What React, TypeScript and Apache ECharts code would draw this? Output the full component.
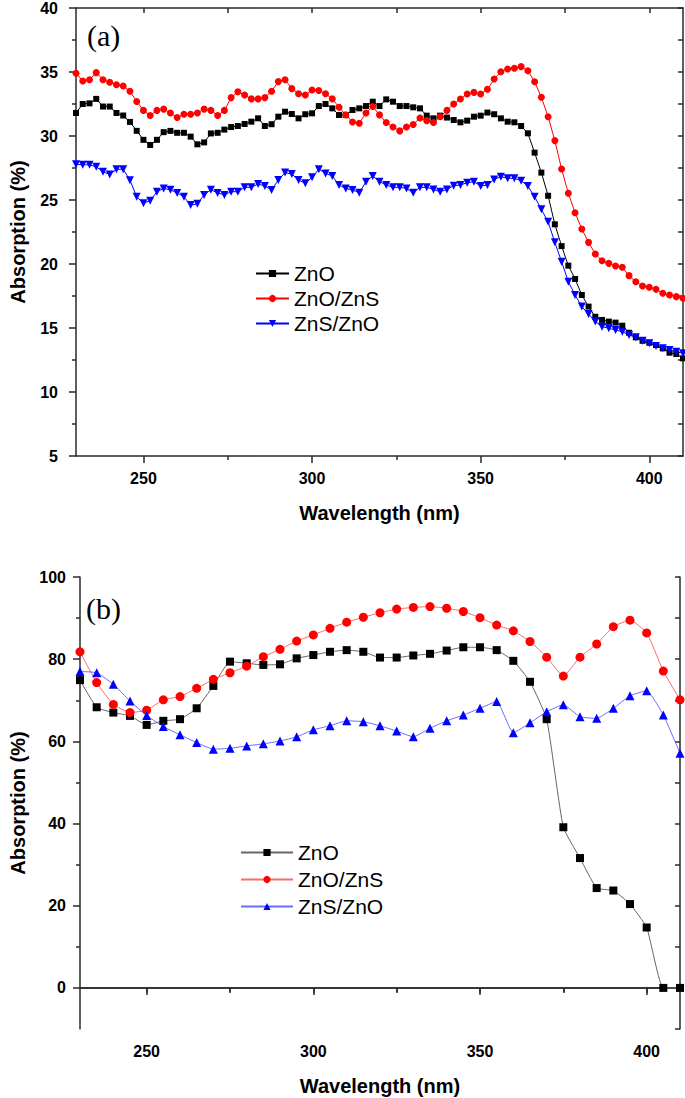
import React, { useEffect, useRef } from "react";
import * as echarts from "echarts";

// ---------- data: panel (a) ----------
const wavelengthA = [
  230, 232, 234, 236, 238, 240, 242, 244, 246, 248, 250, 252, 254, 256, 258, 260, 262, 264, 266, 268,
  270, 272, 274, 276, 278, 280, 282, 284, 286, 288, 290, 292, 294, 296, 298, 300, 302, 304, 306, 308,
  310, 312, 314, 316, 318, 320, 322, 324, 326, 328, 330, 332, 334, 336, 338, 340, 342, 344, 346, 348,
  350, 352, 354, 356, 358, 360, 362, 364, 366, 368, 370, 372, 374, 376, 378, 380, 382, 384, 386, 388,
  390, 392, 394, 396, 398, 400, 402, 404, 406, 408, 410,
];
const znoA = [
  31.8, 32.5, 32.55, 32.9, 32.3, 32.3, 31.8, 31.6, 31.1, 30.4, 29.7, 29.3, 29.7, 30.3, 30.4, 30.25, 30.25, 29.95, 29.35, 29.5,
  30.2, 30.25, 30.5, 30.7, 30.78, 30.94, 31.12, 31.38, 30.78, 30.92, 31.51, 31.9, 31.72, 31.38, 31.7, 31.77, 32.34, 32.5, 32.16, 31.64,
  31.64, 32.03, 32.16, 32.34, 32.68, 32.34, 32.86, 32.68, 32.34, 32.34, 32.24, 32.16, 31.59, 31.38, 31.59, 31.44, 31.25, 31.07, 31.2, 31.51,
  31.59, 31.83, 31.7, 31.38, 31.12, 31.07, 30.78, 30.21, 28.7, 27.14, 25.33, 23.1, 21.4, 19.87, 18.83, 17.58, 16.67, 15.88, 15.63, 15.5,
  15.42, 15.18, 14.63, 14.27, 14.0, 13.85, 13.67, 13.41, 13.07, 12.97, 12.63,
];
const znoZnsA = [
  34.9, 34.3, 34.4, 34.95, 34.4, 34.2, 34.0, 33.9, 33.5, 32.7, 32.0, 31.6, 32.0, 32.1, 31.8, 31.45, 31.7, 31.7, 31.8, 32.1,
  32.0, 31.6, 32.0, 33.0, 33.45, 33.2, 32.9, 32.9, 33.0, 33.5, 34.25, 34.4, 33.7, 33.3, 33.2, 33.6, 33.55, 33.3, 32.9, 32.25,
  31.65, 31.1, 31.0, 31.8, 32.3, 31.65, 31.05, 30.7, 30.4, 30.7, 30.9, 31.4, 31.2, 31.05, 31.5, 32.0, 32.5, 32.89, 33.28, 33.41,
  33.28, 33.65, 34.45, 35.02, 35.23, 35.29, 35.42, 35.1, 34.24, 33.02, 31.51, 29.64, 27.42, 25.52, 24.01, 22.73, 21.69, 20.78, 20.26, 20.05,
  19.84, 19.74, 19.09, 18.62, 18.28, 18.18, 18.02, 17.71, 17.58, 17.45, 17.32,
];
const znsZnoA = [
  27.8, 27.75, 27.75, 27.6, 27.2, 27.0, 27.4, 27.4, 26.55, 25.25, 24.75, 24.95, 25.65, 25.9, 25.8, 25.55, 25.25, 24.6, 24.7, 25.4,
  25.8, 25.55, 25.4, 25.65, 25.65, 25.99, 25.99, 26.25, 26.09, 25.78, 26.56, 27.14, 27.03, 26.56, 26.3, 26.77, 27.4, 27.08, 26.88, 26.17,
  25.9, 25.78, 25.57, 26.43, 26.88, 26.43, 26.17, 25.99, 25.99, 25.9, 25.57, 25.99, 25.99, 25.83, 25.65, 25.83, 26.12, 26.17, 26.35, 26.43,
  26.09, 26.17, 26.61, 26.82, 26.69, 26.69, 26.51, 26.09, 25.26, 24.27, 23.3, 21.69, 20.18, 18.62, 17.58, 16.67, 16.09, 15.5, 15.1, 14.98,
  14.84, 14.71, 14.45, 14.27, 14.0, 13.8, 13.59, 13.41, 13.28, 13.15, 13.02,
];

// ---------- data: panel (b) ----------
const wavelengthB = [
  230, 235, 240, 245, 250, 255, 260, 265, 270, 275, 280, 285, 290, 295, 300, 305, 310, 315, 320, 325,
  330, 335, 340, 345, 350, 355, 360, 365, 370, 375, 380, 385, 390, 395, 400, 405, 410,
];
const znoB = [
  74.9, 68.3, 67.0, 66.2, 64.0, 65.0, 65.4, 68.05, 73.5, 79.4, 79.0, 78.6, 78.75, 80.2, 81.0, 81.8, 82.2, 81.8, 80.4, 80.4,
  80.9, 81.3, 82.1, 82.9, 82.9, 82.2, 79.6, 74.5, 65.4, 39.1, 31.6, 24.3, 23.7, 20.4, 14.7, 0, 0,
];
const znoZnsB = [
  81.8, 74.3, 69.0, 67.0, 67.6, 70.1, 70.9, 72.9, 75.1, 76.7, 78.3, 80.6, 82.4, 84.4, 85.9, 87.5, 89.0, 90.2, 91.3, 92.2,
  92.6, 92.8, 92.4, 91.6, 90.1, 88.3, 86.9, 84.3, 80.5, 75.9, 80.5, 83.7, 87.9, 89.5, 86.4, 77.1, 70.1,
];
const znsZnoB = [
  77.0, 76.7, 73.9, 69.8, 66.3, 63.6, 61.6, 59.7, 58.1, 58.3, 58.9, 59.4, 60.1, 61.1, 62.8, 63.8, 65.0, 64.8, 63.8, 62.5,
  61.1, 63.2, 65.0, 66.4, 68.05, 69.7, 62.1, 64.5, 67.2, 68.9, 66.0, 65.6, 68.05, 71.1, 72.3, 66.4, 57.1,
];

const xMajorLabels = [250, 300, 350, 400];
const xMinorTicks = [275, 325, 375];
const xTopTicks = [250, 275, 300, 325, 350, 375, 400];
const yLabelsB = [0, 20, 40, 60, 80, 100];
const yMinorB = [10, 30, 50, 70, 90];
const seriesNames = ["ZnO", "ZnO/ZnS", "ZnS/ZnO"];

const SANS = "'Liberation Sans', Arial, Helvetica, sans-serif";
const SERIF = "'Liberation Serif', 'Times New Roman', serif";
const AXIS = { color: "#2a2a2a", width: 1.5 };

function pairs(xs: number[], ys: number[]) {
  return xs.map((x, i) => [x, ys[i]]);
}

export default function App() {
  const ref = useRef<HTMLDivElement>(null);
  useEffect(() => {
    document.body.style.margin = "0";
    const chart = echarts.init(ref.current!, null, { renderer: "svg" });
    const label = { fontSize: 16, fontWeight: "bold", color: "#000", fontFamily: SANS };
    const nameStyle = { fontSize: 20, fontWeight: "bold", color: "#000", fontFamily: SANS };

    const xAxesFor = (grid: number) => [
      {
        type: "value", gridIndex: grid, min: 230, max: 410, position: "bottom",
        axisLine: { show: true, lineStyle: AXIS },
        axisTick: { show: true, customValues: xMajorLabels, length: 7, lineStyle: AXIS },
        axisLabel: { ...label, customValues: xMajorLabels, margin: 14 },
        splitLine: { show: false },
        name: "Wavelength (nm)", nameLocation: "middle", nameGap: 47, nameTextStyle: nameStyle,
      },
      {
        type: "value", gridIndex: grid, min: 230, max: 410, position: "bottom",
        axisLine: { show: false },
        axisTick: { show: true, customValues: xMinorTicks, length: 4, lineStyle: AXIS },
        axisLabel: { show: false },
        splitLine: { show: false },
      },
      {
        type: "value", gridIndex: grid, min: 230, max: 410, position: "top",
        axisLine: { show: true, lineStyle: AXIS },
        axisTick: { show: true, inside: true, customValues: xTopTicks, length: 5, lineStyle: AXIS },
        axisLabel: { show: false },
        splitLine: { show: false },
      },
    ];

    const yAxes = [
      {
        type: "value", gridIndex: 0, min: 5, max: 40, interval: 5, position: "left",
        axisLine: { show: true, lineStyle: AXIS },
        axisTick: { show: true, length: 7, lineStyle: AXIS },
        minorTick: { show: true, splitNumber: 2, length: 4, lineStyle: AXIS },
        axisLabel: { ...label, margin: 18 },
        splitLine: { show: false },
        name: "Absorption (%)", nameLocation: "middle", nameGap: 48, nameTextStyle: nameStyle,
      },
      {
        type: "value", gridIndex: 0, min: 5, max: 40, interval: 2.5, position: "right",
        axisLine: { show: true, lineStyle: AXIS },
        axisTick: { show: true, inside: true, length: 5, lineStyle: AXIS },
        axisLabel: { show: false },
        splitLine: { show: false },
      },
      {
        type: "value", gridIndex: 1, min: -10, max: 100, interval: 10, position: "left",
        axisLine: { show: true, lineStyle: AXIS },
        axisTick: { show: true, customValues: yLabelsB, length: 7, lineStyle: AXIS },
        axisLabel: { ...label, customValues: yLabelsB, margin: 14 },
        splitLine: { show: false },
        name: "Absorption (%)", nameLocation: "middle", nameGap: 52, nameTextStyle: nameStyle,
      },
      {
        type: "value", gridIndex: 1, min: -10, max: 100, interval: 10, position: "left",
        axisLine: { show: false },
        axisTick: { show: true, customValues: yMinorB, length: 4, lineStyle: AXIS },
        axisLabel: { show: false },
        splitLine: { show: false },
      },
      {
        type: "value", gridIndex: 1, min: -10, max: 100, interval: 10, position: "right",
        axisLine: { show: true, lineStyle: AXIS },
        axisTick: { show: true, inside: true, length: 5, lineStyle: AXIS },
        axisLabel: { show: false },
        splitLine: { show: false },
      },
    ];

    const lineA = (name: string, ys: number[], color: string, symbol: string, size: number, rotate = 0) => ({
      name, type: "line", xAxisIndex: 0, yAxisIndex: 0, data: pairs(wavelengthA, ys),
      symbol, symbolSize: size, symbolRotate: rotate, showSymbol: true,
      itemStyle: { color }, lineStyle: { color, width: 1 },
    });
    const lineB = (name: string, ys: number[], color: string, lineColor: string, symbol: string, size: number) => ({
      name: name + " (b)", type: "line", xAxisIndex: 3, yAxisIndex: 2, data: pairs(wavelengthB, ys),
      symbol, symbolSize: size, showSymbol: true, smooth: 0.15,
      itemStyle: { color }, lineStyle: { color: lineColor, width: 1 },
    });

    chart.setOption({
      animation: false,
      backgroundColor: "#fff",
      grid: [
        { left: 71, top: 8, width: 612, height: 448 },
        { left: 77, top: 577, width: 603, height: 452 },
      ],
      xAxis: [...xAxesFor(0), ...xAxesFor(1)],
      yAxis: yAxes,
      legend: [
        {
          orient: "vertical", left: 250, top: 258, itemWidth: 33, itemHeight: 9, itemGap: 4,
          selectedMode: false, data: seriesNames,
          textStyle: { fontSize: 21, color: "#000", fontFamily: SANS },
        },
        {
          orient: "vertical", left: 235, top: 837, itemWidth: 52, itemHeight: 9, itemGap: 6,
          selectedMode: false, data: seriesNames.map((n) => n + " (b)"),
          formatter: (n: string) => n.replace(" (b)", ""),
          textStyle: { fontSize: 21, color: "#000", fontFamily: SANS },
        },
      ],
      graphic: [
        { type: "text", left: 87, top: 20, style: { text: "(a)", font: `30px ${SERIF}`, fill: "#000" } },
        { type: "text", left: 86, top: 593, style: { text: "(b)", font: `30px ${SERIF}`, fill: "#000" } },
      ],
      series: [
        lineA("ZnO", znoA, "#000000", "rect", 6),
        lineA("ZnO/ZnS", znoZnsA, "#ff0000", "circle", 7),
        lineA("ZnS/ZnO", znsZnoA, "#0000ff", "triangle", 8, 180),
        lineB("ZnO", znoB, "#000000", "#666666", "rect", 8),
        lineB("ZnO/ZnS", znoZnsB, "#ff0000", "#ff6a6a", "circle", 9),
        lineB("ZnS/ZnO", znsZnoB, "#0000ff", "#6a6aff", "triangle", 9),
      ],
    });
    return () => chart.dispose();
  }, []);
  return <div ref={ref} style={{ width: 685, height: 1098 }} />;
}
